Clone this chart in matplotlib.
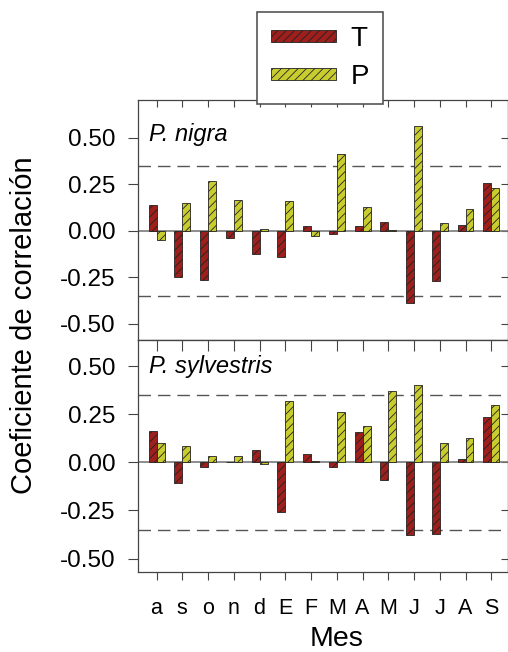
import matplotlib
matplotlib.use('Agg')
import matplotlib.pyplot as plt
import numpy as np
from matplotlib.patches import Patch

plt.rcParams['font.family'] = ['Liberation Sans', 'DejaVu Sans']
plt.rcParams['hatch.linewidth'] = 0.6

# datos
meses = ['a', 's', 'o', 'n', 'd', 'E', 'F', 'M', 'A', 'M', 'J', 'J', 'A', 'S']
nigra_T = [0.14, -0.25, -0.265, -0.04, -0.125, -0.14, 0.025, -0.02, 0.025, 0.045, -0.39, -0.27, 0.03, 0.255]
nigra_P = [-0.05, 0.15, 0.265, 0.165, 0.01, 0.16, -0.03, 0.41, 0.125, 0.005, 0.565, 0.04, 0.115, 0.23]
sylv_T = [0.165, -0.105, -0.025, 0.0, 0.065, -0.26, 0.045, -0.025, 0.16, -0.09, -0.38, -0.375, 0.015, 0.235]
sylv_P = [0.10, 0.085, 0.035, 0.035, -0.01, 0.32, 0.005, 0.26, 0.19, 0.37, 0.40, 0.10, 0.125, 0.30]
umbral = 0.35
yticks = [-0.5, -0.25, 0.0, 0.25, 0.5]

col_T = '#9e1f1c'
col_P = '#c8cc2e'
ancho = 0.31
gris = '#444444'

fig = plt.figure(figsize=(5.08, 6.52), dpi=100)
L, R = 138 / 508, 1.0
ax1 = fig.add_axes([L, 1 - 340 / 652, R - L, 240 / 652])
ax2 = fig.add_axes([L, 1 - 572 / 652, R - L, 232 / 652])

x = np.arange(len(meses))
paneles = [(ax1, nigra_T, nigra_P, 'P. nigra', (-0.588, 0.703), 0.829),
           (ax2, sylv_T, sylv_P, 'P. sylvestris', (-0.570, 0.636), 0.857)]

for ax, t, p, nombre, lim, ytxt in paneles:
    ax.axhline(0, color='#7a7a7a', lw=1.2, zorder=1)
    ax.axhline(umbral, color='#555555', lw=1.0, dashes=(9, 5), zorder=1)
    ax.axhline(-umbral, color='#555555', lw=1.0, dashes=(9, 5), zorder=1)
    ax.bar(x - ancho / 2, t, ancho, color=col_T, edgecolor='#222222', hatch='////', lw=0.6, zorder=2)
    ax.bar(x + ancho / 2, p, ancho, color=col_P, edgecolor='#222222', hatch='////', lw=0.6, zorder=2)
    ax.set_xlim(-0.72, 13.65)
    ax.set_ylim(*lim)
    ax.set_yticks(yticks)
    ax.set_yticklabels(['%.2f' % v for v in yticks])
    ax.set_xticks(x)
    ax.tick_params(axis='y', left=True, right=False, direction='out',
                   length=7, width=0.8, color=gris, labelsize=17.5, pad=9)
    # marcas interiores a la derecha
    sec = ax.secondary_yaxis('right')
    sec.set_yticks(yticks)
    sec.tick_params(axis='y', direction='in', length=5, width=0.8, color=gris, labelright=False)
    sec.spines['right'].set_color(gris)
    for s in ax.spines.values():
        s.set_color(gris)
        s.set_linewidth(0.9)
    ax.text(0.03, ytxt, nombre, transform=ax.transAxes, fontsize=17, style='italic', va='baseline')

ax1.tick_params(axis='x', top=True, bottom=False, labelbottom=False, direction='in',
                length=5, width=0.8, color=gris)
ax2.set_xticklabels(meses)
ax2.tick_params(axis='x', bottom=True, top=False, direction='out', length=6, width=0.8,
                color=gris, labelsize=15.5, pad=13)
sec_x = ax2.secondary_xaxis('top')
sec_x.set_xticks(x)
sec_x.tick_params(axis='x', direction='in', length=8, width=0.8, color=gris, labeltop=False)
sec_x.spines['top'].set_color(gris)

fig.text(0.047, 0.5015, 'Coeficiente de correlación', rotation=90, fontsize=21, ha='center', va='center')
fig.text(0.663, 0.0095, 'Mes', fontsize=20.5, ha='center', va='baseline')

handles = [Patch(facecolor=col_T, edgecolor='#222222', hatch='////', lw=0.6, label='T'),
           Patch(facecolor=col_P, edgecolor='#222222', hatch='////', lw=0.6, label='P')]
leg = fig.legend(handles=handles, loc='upper left', bbox_to_anchor=(256.7 / 508, 1 - 12.3 / 652),
                 fontsize=20, frameon=True, fancybox=False, borderaxespad=0,
                 handlelength=2.34, handleheight=0.29, handletextpad=0.55,
                 borderpad=0.5, labelspacing=0.42)
leg.get_frame().set_edgecolor('#555555')
leg.get_frame().set_linewidth(1.2)
leg.get_frame().set_alpha(1)
leg.set_zorder(5)

fig.savefig('out.png', dpi=100)
